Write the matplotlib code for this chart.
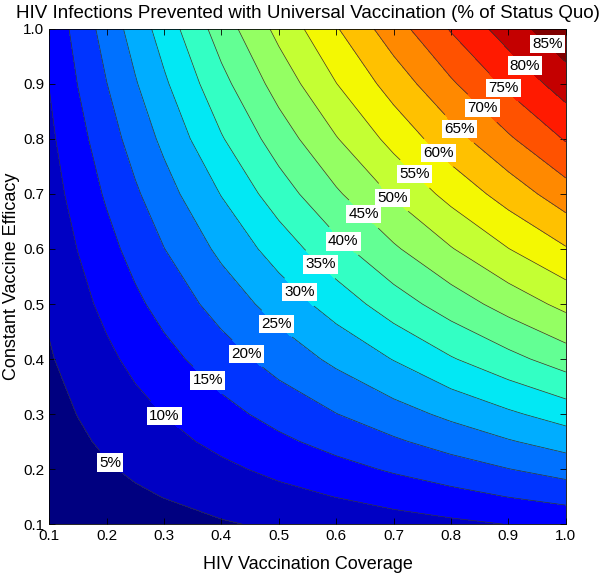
import numpy as np
import matplotlib
matplotlib.use("Agg")
import matplotlib.pyplot as plt

plt.rcParams['font.family'] = ['Liberation Sans', 'DejaVu Sans']

# grid (values in % of infections prevented)
coverage = [0.1, 0.15, 0.2, 0.25, 0.3, 0.4, 0.5, 0.6, 0.7, 0.8, 0.9, 1.0]
efficacy = [0.1, 0.15, 0.2, 0.25, 0.3, 0.4, 0.5, 0.6, 0.7, 0.8, 0.9, 1.0]
prevented = [
    [1.1, 1.7, 2.3, 2.9, 3.4, 4.6, 5.7, 6.8, 7.9, 9.0, 10.1, 11.2],
    [1.7, 2.6, 3.4, 4.3, 5.1, 6.8, 8.5, 10.1, 11.8, 13.4, 15.1, 16.7],
    [2.3, 3.4, 4.6, 5.7, 6.8, 9.0, 11.2, 13.4, 15.6, 17.7, 19.9, 22.0],
    [2.9, 4.3, 5.7, 7.1, 8.5, 11.2, 14.0, 16.7, 19.3, 22.0, 24.6, 27.1],
    [3.4, 5.1, 6.8, 8.5, 10.1, 13.4, 16.7, 19.9, 23.0, 26.1, 29.2, 32.2],
    [4.6, 6.8, 9.0, 11.2, 13.4, 17.7, 22.0, 26.1, 30.2, 34.6, 38.5, 42.4],
    [5.7, 8.5, 11.2, 14.0, 16.7, 22.0, 27.1, 32.2, 37.6, 42.4, 47.0, 51.4],
    [6.8, 10.1, 13.4, 16.7, 19.9, 26.1, 32.2, 38.5, 44.3, 49.7, 54.9, 59.6],
    [7.9, 11.8, 15.6, 19.3, 23.0, 30.2, 37.6, 44.3, 50.6, 56.6, 62.1, 67.8],
    [9.0, 13.4, 17.7, 22.0, 26.1, 34.6, 42.4, 49.7, 56.6, 63.0, 69.3, 75.4],
    [10.1, 15.1, 19.9, 24.6, 29.2, 38.5, 47.0, 54.9, 62.1, 69.3, 76.1, 82.4],
    [11.2, 16.7, 22.0, 27.1, 32.2, 42.4, 51.4, 59.6, 67.8, 75.4, 82.4, 89.0],
]
ticks = [0.1, 0.2, 0.3, 0.4, 0.5, 0.6, 0.7, 0.8, 0.9, 1.0]
levels = list(range(0, 95, 5))
label_levels = list(range(5, 90, 5))

fig = plt.figure(figsize=(6, 5.76), dpi=100)
ax = fig.add_axes([0.082, 0.090, 0.861, 0.860])

Z = np.array(prevented)
band_colors = plt.cm.jet(np.linspace(0, 1, len(levels) - 1))
ax.contourf(coverage, efficacy, Z, levels=levels, colors=band_colors)
cs = ax.contour(coverage, efficacy, Z, levels=label_levels,
                colors='#333333', linewidths=0.5)

# label spots along the diagonal, like the original
spots = [(0.21, 0.216), (0.30, 0.296), (0.377, 0.362), (0.446, 0.411),
         (0.493, 0.46), (0.528, 0.513), (0.566, 0.565), (0.608, 0.609),
         (0.641, 0.656), (0.699, 0.693), (0.732, 0.731), (0.775, 0.771),
         (0.81, 0.813), (0.852, 0.853), (0.89, 0.891), (0.925, 0.929),
         (0.963, 0.967)]
labels = ax.clabel(cs, fmt='%d%%', fontsize=11, colors='black',
                   inline=True, manual=spots)
for t in labels:
    t.set_rotation(0)
    t.set_bbox(dict(facecolor='white', edgecolor='none', pad=1.5))

ax.set_xlim(0.1, 1.0)
ax.set_ylim(0.1, 1.0)
ax.set_xticks(ticks)
ax.set_yticks(ticks)
ax.set_xticklabels(['%.1f' % v for v in ticks])
ax.set_yticklabels(['%.1f' % v for v in ticks])
ax.tick_params(direction='in', top=True, right=True, length=4,
               labelsize=11, width=0.6)
for s in ax.spines.values():
    s.set_linewidth(0.6)

ax.set_xlabel('HIV Vaccination Coverage', fontsize=13, labelpad=9)
ax.set_ylabel('Constant Vaccine Efficacy', fontsize=13, labelpad=2)
ax.set_title('HIV Infections Prevented with Universal Vaccination (% of Status Quo)',
             fontsize=13.5, pad=8)

fig.savefig('out.png', dpi=100)
